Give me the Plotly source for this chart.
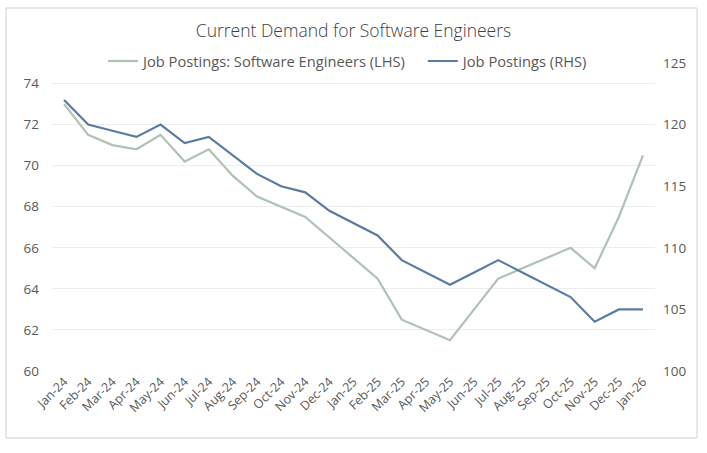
#!/usr/bin/env python3
"""
Current demand for software engineers - two axis line chart
"""

import plotly.graph_objs as go

months = ["Jan-24", "Feb-24", "Mar-24", "Apr-24", "May-24", "Jun-24", "Jul-24",
          "Aug-24", "Sep-24", "Oct-24", "Nov-24", "Dec-24", "Jan-25", "Feb-25",
          "Mar-25", "Apr-25", "May-25", "Jun-25", "Jul-25", "Aug-25", "Sep-25",
          "Oct-25", "Nov-25", "Dec-25", "Jan-26"]

software_eng = [73.0, 71.5, 71.0, 70.8, 71.5, 70.2, 70.8, 69.5, 68.5, 68.0,
                67.5, 66.5, 65.5, 64.5, 62.5, 62.0, 61.5, 63.0, 64.5, 65.0,
                65.5, 66.0, 65.0, 67.5, 70.5]

job_postings = [122.0, 120.0, 119.5, 119.0, 120.0, 118.5, 119.0, 117.5, 116.0,
                115.0, 114.5, 113.0, 112.0, 111.0, 109.0, 108.0, 107.0, 108.0,
                109.0, 108.0, 107.0, 106.0, 104.0, 105.0, 105.0]

left_ticks = [60, 62, 64, 66, 68, 70, 72, 74]
right_ticks = [100, 105, 110, 115, 120, 125]

FONT = "Open Sans"
GREY_TXT = "#595959"


def main():
    sw = go.Scatter(x=months, y=software_eng, mode="lines",
                    name="Job Postings: Software Engineers (LHS)",
                    line=dict(color="#AFC2B3", width=2.2), legend="legend")
    jp = go.Scatter(x=months, y=job_postings, mode="lines",
                    name="Job Postings (RHS)", yaxis="y2",
                    line=dict(color="#5B7BA3", width=2.2), legend="legend2")

    leg = dict(orientation="h", xanchor="left", y=1.005, yanchor="middle",
               font=dict(size=14.7, color=GREY_TXT), bgcolor="rgba(0,0,0,0)",
               itemwidth=30)

    layout = go.Layout(
        width=707, height=453, showlegend=True,
        margin=dict(l=52, r=52, t=63, b=82, autoexpand=False),
        paper_bgcolor="white", plot_bgcolor="white",
        font=dict(family=FONT, color=GREY_TXT, size=13),
        title=dict(text="Current Demand for Software Engineers",
                   x=0.5, xanchor="center", y=1 - 25 / 453, yanchor="top",
                   font=dict(size=17.5, color="#404040", weight=300)),
        legend=dict(leg, x=0.0846),
        legend2=dict(leg, x=0.615),
        xaxis=dict(type="category", range=[-0.5, len(months) - 0.5],
                   tickangle=-45, showgrid=False, showline=False, ticks="",
                   tickfont=dict(size=12.5), automargin=False),
        yaxis=dict(range=[60, 75], tickvals=left_ticks, showgrid=True,
                   gridcolor="#EDEDED", zeroline=False, ticks="",
                   tickfont=dict(size=13.5), automargin=False,
                   ticklabelstandoff=12),
        yaxis2=dict(range=[100, 125], tickvals=right_ticks, overlaying="y",
                    side="right", showgrid=False, zeroline=False, ticks="",
                    tickfont=dict(size=13.5), automargin=False,
                    ticklabelstandoff=7),
        shapes=[dict(type="rect", xref="paper", yref="paper",
                     x0=-0.0763, x1=1.0697, y0=-0.2175, y1=1.1786,
                     line=dict(color="#D0D0D0", width=1))],
    )
    fig = go.Figure(data=[sw, jp], layout=layout)
    fig.write_html("out.html", config={"displayModeBar": False},
                   post_script="document.body.style.margin='0';")


if __name__ == "__main__":

    main()
